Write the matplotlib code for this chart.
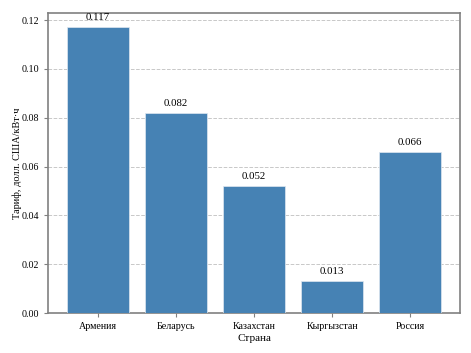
import matplotlib
matplotlib.use("Agg")
import matplotlib.pyplot as plt

countries = ["Армения", "Беларусь", "Казахстан", "Кыргызстан", "Россия"]
tariffs = [0.117, 0.082, 0.052, 0.013, 0.066]
labels = ["0.117", "0.082", "0.052", "0.013", "0.066"]

plt.rcParams['font.family'] = ['Liberation Serif', 'DejaVu Serif']

fig, ax = plt.subplots(figsize=(4.71, 3.53), dpi=100)
fig.subplots_adjust(left=0.102, right=0.977, top=0.963, bottom=0.113)

bars = ax.bar(countries, tariffs, width=0.8, color='#4682B4', edgecolor='#dfe8f0', linewidth=0.5, zorder=3)
for b, lab in zip(bars, labels):
    ax.annotate(lab, (b.get_x() + b.get_width() / 2, b.get_height()),
                xytext=(0, 3.5), textcoords='offset points', ha='center', va='bottom', fontsize=7.8)

ax.yaxis.grid(True, linestyle='--', color='#c8c8c8', linewidth=0.7, zorder=0)
ax.set_axisbelow(True)
ax.set_ylabel("Тариф, долл. США/кВт·ч", fontsize=7.4, labelpad=-0.6)
ax.set_xlabel("Страна", fontsize=8, labelpad=2)
ax.tick_params(labelsize=7.2, color='#808080', length=3)
for s in ax.spines.values():
    s.set_color('#808080')
    s.set_linewidth(1.2)
ax.set_yticks([0.0, 0.02, 0.04, 0.06, 0.08, 0.10, 0.12])
ax.set_yticklabels(["0.00", "0.02", "0.04", "0.06", "0.08", "0.10", "0.12"])

fig.savefig("out.png", dpi=100)
